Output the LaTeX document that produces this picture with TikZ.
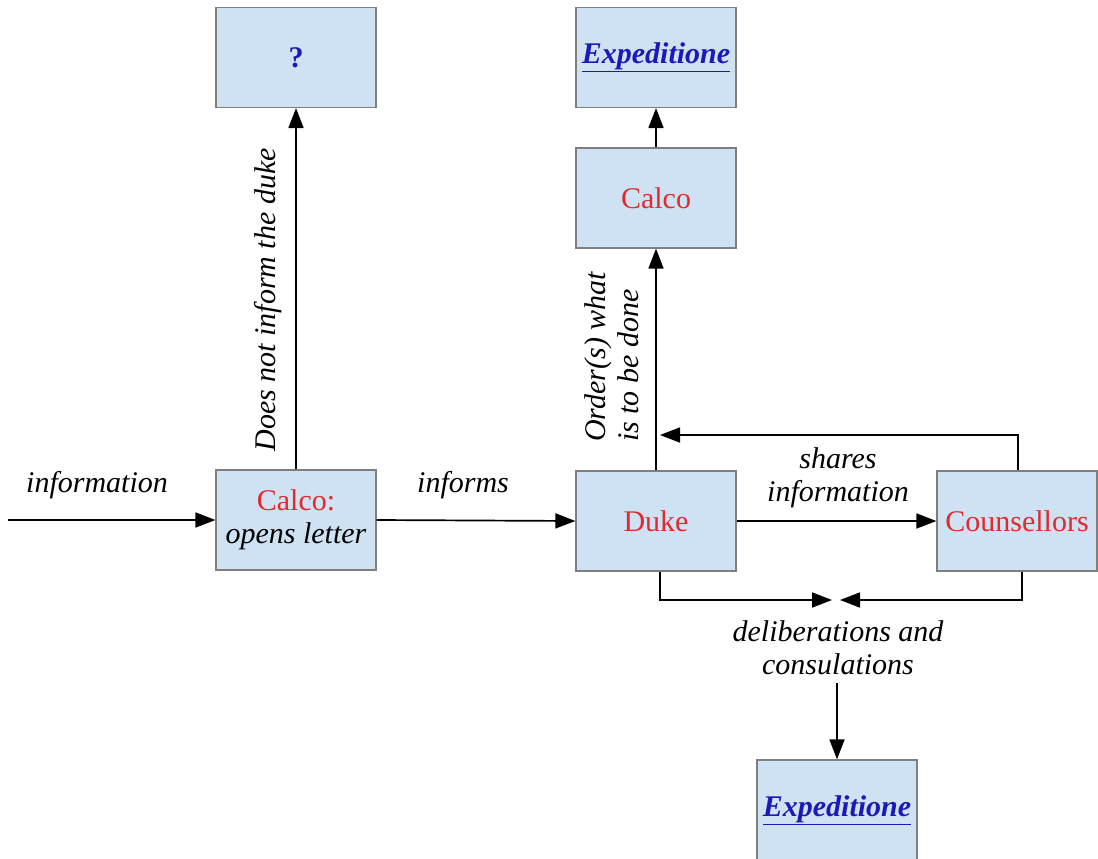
\documentclass[tikz,border=0pt]{standalone}
\usepackage{fontspec}
\setmainfont{Liberation Serif}
\usetikzlibrary{arrows.meta}
\definecolor{boxfill}{HTML}{CFE2F3}
\definecolor{boxline}{HTML}{7F7F7F}
\definecolor{redtxt}{HTML}{E02A2E}
\definecolor{bluetxt}{HTML}{1A1AB8}
\begin{document}
\begin{tikzpicture}[x=1pt,y=-1pt,
  box/.style={draw=boxline,line width=1.2pt,fill=boxfill,minimum width=160pt,minimum height=100pt,inner sep=0pt,align=center,font=\rmfamily\fontsize{30}{33}\selectfont},
  conn/.style={line width=1.7pt,-{Triangle[length=20pt,width=15pt]}},
  lbl/.style={font=\rmfamily\fontsize{30}{33}\selectfont\itshape,align=center,inner sep=0pt},
  red/.style={text=redtxt},
  exped/.style={text=bluetxt,font=\rmfamily\fontsize{30}{33}\selectfont\bfseries\itshape}]
\useasboundingbox (0,0) rectangle (1098,859);
\node[box,text=bluetxt,font=\rmfamily\fontsize{30}{33}\selectfont\bfseries] (q) at (296,57.5) {?};
\node[box,exped] (exp1) at (656,57.5) {\underline{Expeditione}};
\node[box,red] (calco2) at (656,198) {Calco};
\node[box] (calco1) at (296,520) {\textcolor{redtxt}{Calco:}\\\textit{opens letter}};
\node[box,red] (duke) at (656,521) {Duke};
\node[box,red] (couns) at (1017,521) {Counsellors};
\node[box,exped] (exp2) at (837,810) {\underline{Expeditione}};
\coordinate (in) at (8,520);
\coordinate (loopR) at (1018,435);
\coordinate (loopL) at (660,435);
\coordinate (dA) at (660,600);
\coordinate (cA) at (1022,600);
\coordinate (mid) at (836,600);
\coordinate (midB) at (837,683);
% connectors
\draw[conn] (in) -- (calco1.west);
\draw[conn] (calco1.east) -- (duke.west);
\draw[conn] (calco1.north) -- (q.south);
\draw[conn] (duke.north) -- (calco2.south);
\draw[conn] (calco2.north) -- (exp1.south);
\draw[conn] (duke.east) -- (couns.west);
\draw[conn] (couns.north -| loopR) -- (loopR) -- (loopL);
\draw[conn] (duke.south -| dA) -- (dA) -- ([xshift=-4pt]mid);
\draw[conn] (couns.south -| cA) -- (cA) -- ([xshift=4pt]mid);
\draw[conn] (midB) -- (exp2.north);
% labels
\node[lbl] (l1) at (97,485) {information};
\node[lbl] (l2) at (463,485) {informs};
\node[lbl,rotate=90] (l3) at (268,300) {Does not inform the duke};
\node[lbl,rotate=90,align=left] (l4) at (612,357) {Order(s) what\\is to be done};
\node[lbl] (l5) at (838,478) {shares\\information};
\node[lbl] (l6) at (838,648) {deliberations and\\consulations};
\end{tikzpicture}
\end{document}
